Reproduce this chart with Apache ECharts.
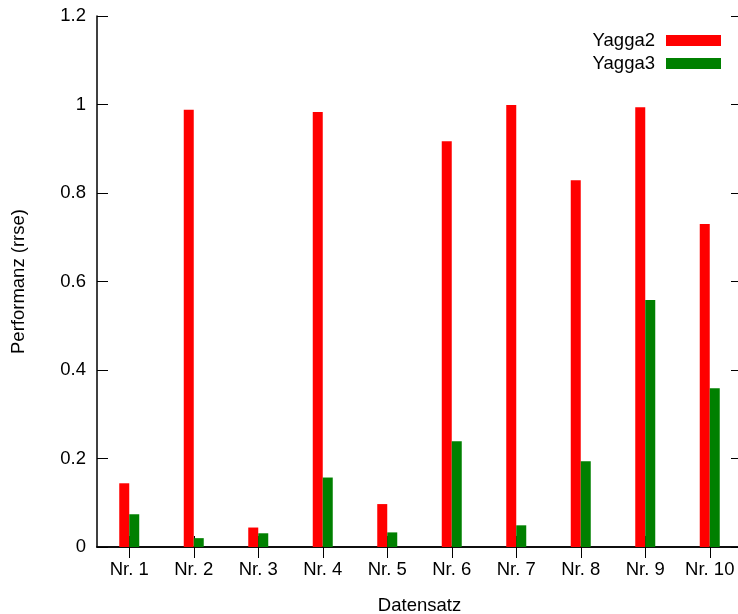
<!DOCTYPE html>
<html>
<head>
<meta charset="utf-8">
<script src="https://cdn.jsdelivr.net/npm/echarts@6/dist/echarts.min.js"></script>
<style>html,body{margin:0;padding:0;background:#fff}#c{width:738px;height:614px}</style>
</head>
<body>
<div id="c"></div>
<script>
const categories = ['Nr. 1','Nr. 2','Nr. 3','Nr. 4','Nr. 5','Nr. 6','Nr. 7','Nr. 8','Nr. 9','Nr. 10'];
const yagga2 = [0.144, 0.988, 0.044, 0.983, 0.097, 0.917, 0.999, 0.829, 0.994, 0.730];
const yagga3 = [0.074, 0.020, 0.031, 0.157, 0.033, 0.239, 0.049, 0.194, 0.558, 0.359];
const seriesNames = ['Yagga2', 'Yagga3'];
const seriesColors = ['#ff0000', '#008000'];

const FONT = 'Liberation Sans';
const FS = 18.5;
const chart = echarts.init(document.getElementById('c'), null, {renderer: 'canvas'});
const axisLine = {show: true, lineStyle: {color: '#000', width: 1.5}};
const tick = {show: true, inside: true, length: 11, lineStyle: {color: '#000', width: 1}};
chart.setOption({
  animation: false,
  backgroundColor: '#fff',
  textStyle: {fontFamily: FONT, color: '#000'},
  grid: {left: 97, top: 16, bottom: 67, width: 645, containLabel: false, outerBoundsMode: 'none'},
  legend: {
    right: 12, top: 26, orient: 'vertical', align: 'right',
    itemWidth: 55, itemHeight: 11, itemGap: 4,
    icon: 'rect',
    textStyle: {fontFamily: FONT, fontSize: FS, color: '#000', padding: [0, 6, 0, 0]},
    data: seriesNames
  },
  xAxis: [{
    type: 'category', data: categories, position: 'bottom',
    axisLine: axisLine, axisTick: Object.assign({alignWithLabel: true, interval: 0}, tick),
    axisLabel: {fontFamily: FONT, fontSize: FS, color: '#000', margin: 13, interval: 0, hideOverlap: false},
    name: 'Datensatz', nameLocation: 'middle', nameGap: 49,
    nameTextStyle: {fontFamily: FONT, fontSize: FS, color: '#000'},
    splitLine: {show: false}
  }, {
    type: 'category', data: categories, position: 'top',
    axisLine: axisLine, axisTick: Object.assign({alignWithLabel: true, interval: 0}, tick),
    axisLabel: {show: false, interval: 0}, splitLine: {show: false}
  }],
  yAxis: [{
    type: 'value', min: 0, max: 1.2, interval: 0.2, position: 'left',
    axisLine: axisLine, axisTick: tick,
    axisLabel: {fontFamily: FONT, fontSize: FS, color: '#000', margin: 11},
    name: 'Performanz (rrse)', nameLocation: 'middle', nameGap: 69,
    nameTextStyle: {fontFamily: FONT, fontSize: FS, color: '#000'},
    splitLine: {show: false}
  }, {
    type: 'value', min: 0, max: 1.2, interval: 0.2, position: 'right',
    axisLine: axisLine, axisTick: tick,
    axisLabel: {show: false}, splitLine: {show: false}
  }],
  series: [
    {name: seriesNames[0], type: 'bar', data: yagga2, barWidth: 10, barGap: '0%',
     itemStyle: {color: seriesColors[0]}, z: 1},
    {name: seriesNames[1], type: 'bar', data: yagga3, barWidth: 10, barGap: '0%',
     itemStyle: {color: seriesColors[1]}, z: 1}
  ]
});
</script>
</body>
</html>
